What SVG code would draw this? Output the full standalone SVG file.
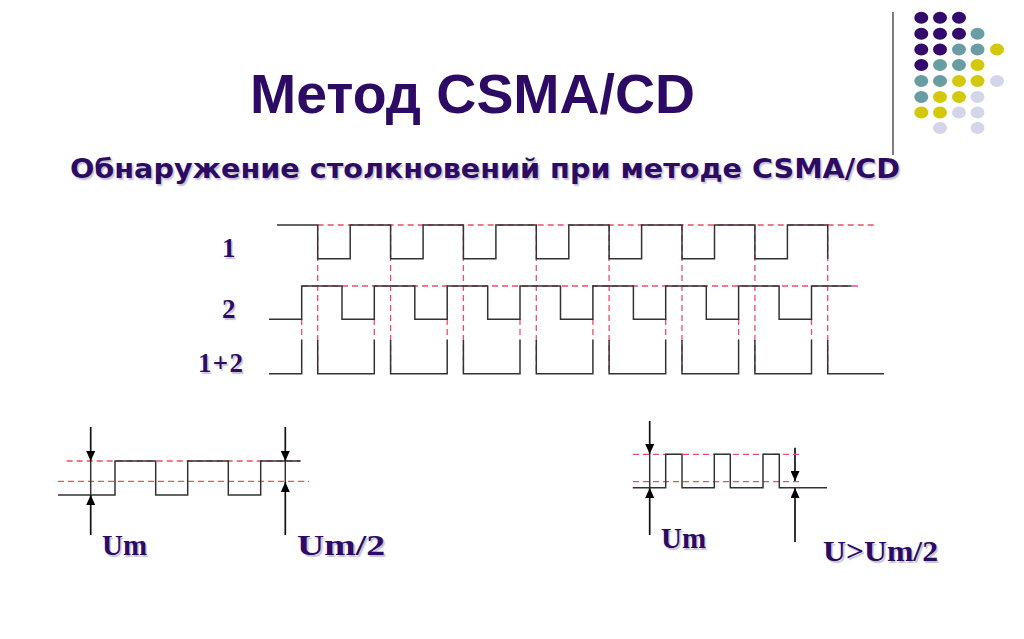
<svg xmlns="http://www.w3.org/2000/svg" width="1024" height="639" viewBox="0 0 1024 639">
<defs>
<marker id="ah" viewBox="0 0 10 9" refX="10" refY="4.5" markerWidth="10" markerHeight="9" markerUnits="userSpaceOnUse" orient="auto"><path d="M0 0L10 4.5L0 9Z" fill="#000"/></marker>
</defs>
<style>
.t{font-family:"Liberation Sans",Arial,sans-serif;font-weight:700;fill:#2d0a63}
.s{font-family:"DejaVu Sans",Verdana,sans-serif;font-weight:700;fill:#2d0a63;text-shadow:1.5px 1.5px 1.5px #c2bfcc}
.l{font-family:"Liberation Serif","Times New Roman",serif;font-weight:700;fill:#2d0a63;text-shadow:1.5px 1.5px 1px #c5c2d0}
.w{fill:none;stroke:#333;stroke-width:1.5}
.r{fill:none;stroke:#ea4f6a;stroke-width:1.3;stroke-dasharray:6 4}
.a{fill:none;stroke:#111;stroke-width:1.7;marker-end:url(#ah)}
.p{fill:#330a6b}.g{fill:#6a9da3}.y{fill:#d4c80a}.v{fill:#d5d5ea}
</style>
<rect width="1024" height="639" fill="#fff"/>
<g id="decor">
<path d="M893 12V155" stroke="#55505f" stroke-width="1.5"/>
<g>
<ellipse class="p" cx="921.3" cy="17.7" rx="7" ry="6"/><ellipse class="p" cx="940" cy="17.7" rx="7" ry="6"/><ellipse class="p" cx="959" cy="17.7" rx="7" ry="6"/>
<ellipse class="p" cx="921.3" cy="33.7" rx="7" ry="6"/><ellipse class="p" cx="940" cy="33.7" rx="7" ry="6"/><ellipse class="p" cx="959" cy="33.7" rx="7" ry="6"/><ellipse class="g" cx="977.5" cy="33.7" rx="7" ry="6"/>
<ellipse class="p" cx="921.3" cy="49.5" rx="7" ry="6"/><ellipse class="p" cx="940" cy="49.5" rx="7" ry="6"/><ellipse class="g" cx="959" cy="49.5" rx="7" ry="6"/><ellipse class="g" cx="977.5" cy="49.5" rx="7" ry="6"/><ellipse class="y" cx="997" cy="49.5" rx="7" ry="6"/>
<ellipse class="p" cx="921.3" cy="65" rx="7" ry="6"/><ellipse class="g" cx="940" cy="65" rx="7" ry="6"/><ellipse class="g" cx="959" cy="65" rx="7" ry="6"/><ellipse class="y" cx="977.5" cy="65" rx="7" ry="6"/>
<ellipse class="g" cx="921.3" cy="81" rx="7" ry="6"/><ellipse class="g" cx="940" cy="81" rx="7" ry="6"/><ellipse class="y" cx="959" cy="81" rx="7" ry="6"/><ellipse class="y" cx="977.5" cy="81" rx="7" ry="6"/><ellipse class="v" cx="997" cy="81" rx="7" ry="6"/>
<ellipse class="g" cx="921.3" cy="97" rx="7" ry="6"/><ellipse class="y" cx="940" cy="97" rx="7" ry="6"/><ellipse class="y" cx="959" cy="97" rx="7" ry="6"/><ellipse class="v" cx="977.5" cy="97" rx="7" ry="6"/>
<ellipse class="y" cx="921.3" cy="112.5" rx="7" ry="6"/><ellipse class="y" cx="940" cy="112.5" rx="7" ry="6"/><ellipse class="v" cx="959" cy="112.5" rx="7" ry="6"/><ellipse class="v" cx="977.5" cy="112.5" rx="7" ry="6"/>
<ellipse class="v" cx="940" cy="128" rx="7" ry="6"/><ellipse class="v" cx="977.5" cy="128" rx="7" ry="6"/>
</g>
</g>
<g id="titles">
<text class="t" x="250" y="113" font-size="55" textLength="445" lengthAdjust="spacingAndGlyphs">Метод CSMA/CD</text>
<text class="s" x="70" y="178" font-size="27" textLength="830" lengthAdjust="spacingAndGlyphs">Обнаружение столкновений при методе CSMA/CD</text>
</g>
<g id="guides-top">
<path class="r" d="M317.7 225H877M302 286H860"/>
<path class="r" d="M317.7 225V374M390.6 225V374M463.4 225V374M536.3 225V374M609.1 225V374M682 225V374M754.9 225V374M827.7 225V374"/>
<path class="r" d="M301.7 319V340M374.3 319V340M447.2 319V340M520 319V340M592.9 319V340M665.7 319V340M738.6 319V340M811.5 319V340"/>
</g>
<g id="signal-1">
<path class="w" d="M277 225H317.7V258.7H350.2V225H390.6V258.7H423.1V225H463.4V258.7H495.9V225H536.3V258.7H568.8V225H609.1V258.7H641.6V225H682V258.7H714.5V225H754.9V258.7H787.4V225H827.7V258.7"/>
</g>
<g id="signal-2">
<path class="w" d="M269 319.3H301.7V286H342V319.3H374.3V286H414.8V319.3H447.2V286H487.7V319.3H520V286H560.5V319.3H592.9V286H633.4V319.3H665.7V286H706.3V319.3H738.6V286H779.1V319.3H811.5V286H851.7"/>
</g>
<g id="signal-sum">
<path class="w" d="M269 373.7H301.7V340M317.7 340V373.7H374.3V340M390.6 340V373.7H447.2V340M463.4 340V373.7H520V340M536.3 340V373.7H592.9V340M609.1 340V373.7H665.7V340M682 340V373.7H738.6V340M754.9 340V373.7H811.5V340M827.7 340V373.7H884"/>
</g>
<g id="labels-top">
<text class="l" x="222" y="257" font-size="27">1</text>
<text class="l" x="222" y="318" font-size="27">2</text>
<text class="l" x="198" y="372" font-size="27" textLength="45">1+2</text>
</g>
<g id="wave-left">
<path class="r" d="M66.7 461H300M58 481.3H309"/>
<path class="w" d="M58 495H115V461H155.7V495H187.7V461H228.3V495H260.7V461H300.7"/>
<path class="w" d="M90.7 461V495M285.3 461V482"/>
</g>
<g id="connectors">
<path class="a" d="M90.7 427V461"/>
<path class="a" d="M90.7 535V495"/>
<path class="a" d="M285.3 427V461"/>
<path class="a" d="M285.3 535V482"/>
<path class="a" d="M649.7 421V454"/>
<path class="a" d="M649.7 535V488"/>
<path class="a" d="M795 447.7V481"/>
<path class="a" d="M795 542V488"/>
</g>
<g id="wave-right">
<path class="r" d="M633 454.3H800M633 481.7H800"/>
<path class="w" d="M632.7 487.7H665.7V454.3H682V487.7H714.3V454.3H730.3V487.7H763V454.3H779.3V487.7H827"/>
<path class="w" d="M649.7 454V488"/>
</g>
<g id="labels-bottom">
<text class="l" x="102" y="555" font-size="29" textLength="45" lengthAdjust="spacingAndGlyphs">Um</text>
<text class="l" x="297" y="555" font-size="29" textLength="88" lengthAdjust="spacingAndGlyphs">Um/2</text>
<text class="l" x="661" y="548" font-size="29" textLength="45" lengthAdjust="spacingAndGlyphs">Um</text>
<text class="l" x="823" y="561" font-size="29" textLength="115" lengthAdjust="spacingAndGlyphs">U&gt;Um/2</text>
</g>
</svg>
